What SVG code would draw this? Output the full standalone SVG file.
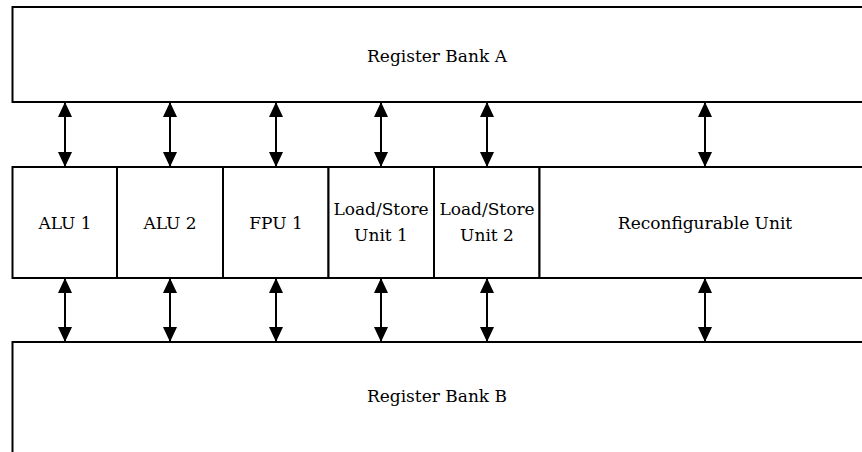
<svg xmlns="http://www.w3.org/2000/svg" width="862" height="452" viewBox="0 0 862 452">
<style>
.box{fill:#fff;stroke:#000;stroke-width:2}
text{font-family:'DejaVu Serif','Liberation Serif',serif;font-size:17px;fill:#000;text-anchor:middle}
.c{stroke:#000;stroke-width:2;fill:none;marker-start:url(#ah);marker-end:url(#ah)}
</style>
<defs>
<marker id="ah" viewBox="0 0 15 14" refX="15" refY="7" markerWidth="15" markerHeight="14" markerUnits="userSpaceOnUse" orient="auto-start-reverse">
<path d="M0,0 L15,7 L0,14 Z" fill="#000"/>
</marker>
</defs>
<rect width="862" height="452" fill="#fff"/>
<g id="bankA"><rect class="box" x="12.5" y="7" width="860" height="95"/><text x="437" y="62">Register Bank A</text></g>
<g id="bankB"><rect class="box" x="12.5" y="342" width="860" height="130"/><text x="437" y="402">Register Bank B</text></g>
<g id="alu1"><rect class="box" x="12.5" y="167" width="104.5" height="111"/><text x="65" y="229">ALU 1</text></g>
<g id="alu2"><rect class="box" x="117" y="167" width="106" height="111"/><text x="170" y="229">ALU 2</text></g>
<g id="fpu1"><rect class="box" x="223" y="167" width="105.5" height="111"/><text x="276" y="229">FPU 1</text></g>
<g id="ls1"><rect class="box" x="328.5" y="167" width="105.5" height="111"/><text x="381" y="215">Load/Store</text><text x="381" y="241">Unit 1</text></g>
<g id="ls2"><rect class="box" x="434" y="167" width="105.5" height="111"/><text x="487" y="215">Load/Store</text><text x="487" y="241">Unit 2</text></g>
<g id="reconf"><rect class="box" x="539.5" y="167" width="333" height="111"/><text x="705" y="229">Reconfigurable Unit</text></g>
<g id="connectors">
<line class="c" x1="65" y1="102" x2="65" y2="167"/>
<line class="c" x1="170" y1="102" x2="170" y2="167"/>
<line class="c" x1="276" y1="102" x2="276" y2="167"/>
<line class="c" x1="381" y1="102" x2="381" y2="167"/>
<line class="c" x1="487" y1="102" x2="487" y2="167"/>
<line class="c" x1="705" y1="102" x2="705" y2="167"/>
<line class="c" x1="65" y1="278" x2="65" y2="342"/>
<line class="c" x1="170" y1="278" x2="170" y2="342"/>
<line class="c" x1="276" y1="278" x2="276" y2="342"/>
<line class="c" x1="381" y1="278" x2="381" y2="342"/>
<line class="c" x1="487" y1="278" x2="487" y2="342"/>
<line class="c" x1="705" y1="278" x2="705" y2="342"/>
</g>
</svg>
